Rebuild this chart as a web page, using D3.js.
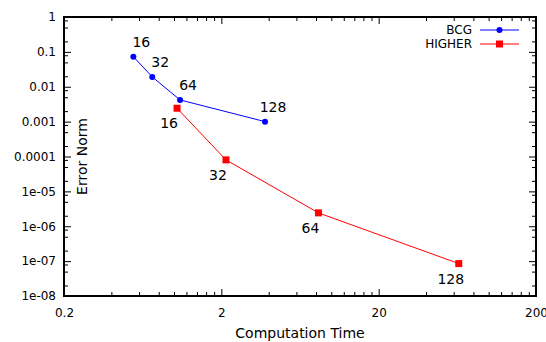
<!DOCTYPE html>
<html>
<head>
<meta charset="utf-8">
<script src="https://cdn.jsdelivr.net/npm/d3@7"></script>
<style>
  html, body { margin: 0; padding: 0; background: #fff; }
  svg { display: block; font-family: "DejaVu Sans", sans-serif; }
</style>
</head>
<body>
<svg id="chart" width="546" height="342"></svg>
<script>
const gridSizes = [16, 32, 64, 128];
const bcgTime = [0.552, 0.728, 1.093, 3.79];
const bcgError = [0.0728, 0.0191, 0.00419, 0.001];
const higherTime = [1.046, 2.14, 8.28, 64.6];
const higherError = [0.00242, 8.0e-5, 2.42e-6, 8.5e-8];
const xTicks = [0.2, 2, 20, 200];
const xTickLabels = ["0.2", "2", "20", "200"];
const yTicks = [1, 0.1, 0.01, 0.001, 1e-4, 1e-5, 1e-6, 1e-7, 1e-8];
const yTickLabels = ["1", "0.1", "0.01", "0.001", "0.0001", "1e-05", "1e-06", "1e-07", "1e-08"];
const seriesNames = ["BCG", "HIGHER"];
const seriesColors = ["#0000ff", "#ff0000"];

const svg = d3.select("#chart");
const L = 64, R = 536, T = 17, B = 296;
const x = d3.scaleLog().domain([0.2, 200]).range([L, R]);
const y = d3.scaleLog().domain([1e-8, 1]).range([B, T]);

// minor ticks
const xMinor = [];
[0.2, 2, 20].forEach(d => { for (let k = 2; k <= 9; k++) xMinor.push(d * k); });
const yMinor = [];
for (let e = -8; e < 0; e++) [2, 5, 8].forEach(k => yMinor.push(k * Math.pow(10, e)));

function styleAxis(g) {
  g.select(".domain").remove();
  g.selectAll(".tick line").attr("stroke", "#000").attr("stroke-width", 1);
  g.selectAll(".tick text").attr("fill", "#000").attr("font-size", 12).attr("font-family", "DejaVu Sans");
}

// bottom
svg.append("g").attr("transform", `translate(0,${B})`)
  .call(d3.axisBottom(x).tickValues(xTicks).tickSize(-7).tickPadding(12)
    .tickFormat((d, i) => xTickLabels[i])).call(styleAxis);
svg.append("g").attr("transform", `translate(0,${B})`)
  .call(d3.axisBottom(x).tickValues(xMinor).tickSize(-4).tickFormat("")).call(styleAxis);
// top
svg.append("g").attr("transform", `translate(0,${T})`)
  .call(d3.axisTop(x).tickValues(xTicks).tickSize(-7).tickFormat("")).call(styleAxis);
svg.append("g").attr("transform", `translate(0,${T})`)
  .call(d3.axisTop(x).tickValues(xMinor).tickSize(-4).tickFormat("")).call(styleAxis);
// left
svg.append("g").attr("transform", `translate(${L},0)`)
  .call(d3.axisLeft(y).tickValues(yTicks).tickSize(-7).tickPadding(8)
    .tickFormat((d, i) => yTickLabels[i])).call(styleAxis);
svg.append("g").attr("transform", `translate(${L},0)`)
  .call(d3.axisLeft(y).tickValues(yMinor).tickSize(-4).tickFormat("")).call(styleAxis);
// right
svg.append("g").attr("transform", `translate(${R},0)`)
  .call(d3.axisRight(y).tickValues(yTicks).tickSize(-7).tickFormat("")).call(styleAxis);
svg.append("g").attr("transform", `translate(${R},0)`)
  .call(d3.axisRight(y).tickValues(yMinor).tickSize(-4).tickFormat("")).call(styleAxis);

// border
svg.append("rect").attr("x", L).attr("y", T).attr("width", R - L).attr("height", B - T)
  .attr("fill", "none").attr("stroke", "#000").attr("stroke-width", 2);

// axis titles
svg.append("text").attr("x", (L + R) / 2).attr("y", 338).attr("text-anchor", "middle")
  .attr("font-size", 14).attr("fill", "#000").text("Computation Time");
svg.append("text").attr("transform", `translate(87,${(T + B) / 2}) rotate(-90)`)
  .attr("text-anchor", "middle").attr("font-size", 14).attr("fill", "#000").text("Error Norm");

const line = d3.line().x(d => x(d[0])).y(d => y(d[1]));
const bcg = bcgTime.map((t, i) => [t, bcgError[i], gridSizes[i]]);
const higher = higherTime.map((t, i) => [t, higherError[i], gridSizes[i]]);

// BCG
svg.append("path").datum(bcg).attr("d", line).attr("fill", "none")
  .attr("stroke", seriesColors[0]).attr("stroke-width", 1);
svg.selectAll(".bcgPt").data(bcg).enter().append("circle")
  .attr("cx", d => x(d[0])).attr("cy", d => y(d[1])).attr("r", 3).attr("fill", seriesColors[0]);
svg.selectAll(".bcgLbl").data(bcg).enter().append("text")
  .attr("x", d => x(d[0]) + 8).attr("y", d => y(d[1]) - 10).attr("text-anchor", "middle")
  .attr("font-size", 14).attr("fill", "#000").text(d => d[2]);

// HIGHER
svg.append("path").datum(higher).attr("d", line).attr("fill", "none")
  .attr("stroke", seriesColors[1]).attr("stroke-width", 1);
svg.selectAll(".hPt").data(higher).enter().append("rect")
  .attr("x", d => x(d[0]) - 3.5).attr("y", d => y(d[1]) - 3.5).attr("width", 7).attr("height", 7)
  .attr("fill", seriesColors[1]);
svg.selectAll(".hLbl").data(higher).enter().append("text")
  .attr("x", d => x(d[0]) - 8).attr("y", d => y(d[1]) + 20).attr("text-anchor", "middle")
  .attr("font-size", 14).attr("fill", "#000").text(d => d[2]);

// legend
seriesNames.forEach((name, i) => {
  const ly = 30 + i * 14;
  svg.append("text").attr("x", 472).attr("y", ly + 4).attr("text-anchor", "end")
    .attr("font-size", 12).attr("fill", "#000").text(name);
  svg.append("line").attr("x1", 480).attr("x2", 519).attr("y1", ly).attr("y2", ly)
    .attr("stroke", seriesColors[i]).attr("stroke-width", 1);
  if (i === 0) {
    svg.append("circle").attr("cx", 499.5).attr("cy", ly).attr("r", 3).attr("fill", seriesColors[i]);
  } else {
    svg.append("rect").attr("x", 496).attr("y", ly - 3.5).attr("width", 7).attr("height", 7).attr("fill", seriesColors[i]);
  }
});
</script>
</body>
</html>
